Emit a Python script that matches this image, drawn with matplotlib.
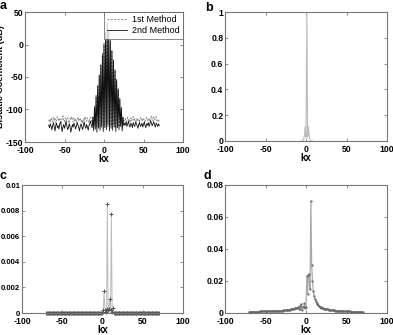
import matplotlib
matplotlib.use("Agg")
import matplotlib.pyplot as plt

plt.rcParams['font.family'] = ['Liberation Sans', 'DejaVu Sans']
plt.rcParams['axes.unicode_minus'] = False

# ---------------- data ----------------
kx = list(range(-70, 71))

# panel a (dB)
a2_left = [-124, -128, -122, -126, -131, -125, -120, -127, -133, -124,
           -121, -128, -125, -130, -122, -119, -126, -134, -127, -123,
           -129, -124, -118, -125, -131, -128, -122, -126, -135, -129,
           -123, -127, -121, -125, -130, -126, -120, -124, -128, -133,
           -125, -122, -127, -131, -124, -119, -126, -129, -123, -127,
           -132, -125, -121, -118, -124]
a2_mid = [-128, -112, -133, -96, -130, -80, -135, -64, -129, -48,
          -132, -32, -127, -16, -134, 0, -128, 18, -131, 33,
          -126, 22, -133, 6, -129, -9, -132, -24, -127, -39,
          -134, -54, -128, -68, -131, -83, -126, -97, -133, -112, -125]
a2_right = [-121, -124, -119, -126, -122, -118, -125, -127, -121, -123,
            -128, -120, -124, -126, -119, -122, -125, -129, -123, -120,
            -126, -124, -121, -127, -123, -119, -125, -128, -122, -124,
            -120, -126, -123, -117, -121, -125, -122, -119, -124, -127,
            -121, -123, -126, -122, -125]
a1_left = [-118, -115, -120, -113, -116, -119, -112, -117, -114, -121,
           -116, -111, -115, -118, -113, -117, -120, -114, -110, -116,
           -119, -113, -117, -115, -112, -118, -121, -114, -116, -111,
           -115, -119, -113, -117, -114, -120, -116, -112, -118, -115,
           -113, -119, -116, -121, -114, -117, -111, -115, -118, -113,
           -116, -120, -114, -112, -117]
a1_mid = [-120, -110, -126, -94, -124, -78, -128, -62, -123, -46,
          -127, -30, -122, -14, -129, 2, -124, 19, -127, 32,
          -121, 21, -128, 5, -125, -10, -127, -25, -122, -40,
          -129, -55, -124, -69, -127, -84, -122, -98, -128, -111, -118]
a1_right = [-117, -114, -119, -115, -112, -118, -116, -120, -113, -117,
            -115, -111, -118, -114, -116, -119, -113, -117, -115, -120,
            -114, -112, -118, -116, -113, -117, -119, -115, -112, -116,
            -118, -114, -117, -113, -110, -115, -118, -112, -116, -114,
            -111, -117, -115, -119, -116]
method1 = a1_left + a1_mid + a1_right
method2 = a2_left + a2_mid + a2_right

# panel b (linear, normalised)
kx_b = [-6, -5, -4, -3, -2, -1, 0, 1, 2, 3, 4, 5, 6, 7, 8]
b_vals = [0.0, 0.0, 0.002, 0.01, 0.04, 0.11, 0.03, 1.0, 0.03, 0.11, 0.04, 0.01, 0.002, 0.0, 0.0]

# panel c
c_left = [0.0] * 55
c_mid = [0.0, 0.0, 0.0, 0.0, 0.0, 0.0, 0.0, 0.0, 0.0, 0.0,
         0.0, 0.0, 0.0, 0.0, 0.0, 0.0001, 0.0002, 0.0017, 0.0002, 0.0001,
         0.0003, 0.0085, 0.0002, 0.0003, 0.0011, 0.0002, 0.0077, 0.0001, 0.0004, 0.0,
         0.0, 0.0, 0.0, 0.0, 0.0, 0.0, 0.0, 0.0, 0.0, 0.0, 0.0]
c_right = [0.0] * 45
c_vals = c_left + c_mid + c_right

# panel d
d_left = [0.0008, 0.0008, 0.0008, 0.0008, 0.0008, 0.0009, 0.0009, 0.0009, 0.0009, 0.0009,
          0.0009, 0.0009, 0.0009, 0.0010, 0.0010, 0.0010, 0.0010, 0.0010, 0.0010, 0.0010,
          0.0010, 0.0011, 0.0011, 0.0011, 0.0011, 0.0011, 0.0011, 0.0012, 0.0012, 0.0012,
          0.0012, 0.0012, 0.0013, 0.0013, 0.0013, 0.0013, 0.0014, 0.0014, 0.0014, 0.0015,
          0.0015, 0.0015, 0.0016, 0.0016, 0.0017, 0.0017, 0.0018, 0.0018, 0.0019, 0.0020,
          0.0021, 0.0022, 0.0023, 0.0024, 0.0026]
d_mid = [0.0027, 0.0029, 0.0031, 0.0033, 0.0030, 0.0036, 0.0028, 0.0045, 0.0025, 0.0055,
         0.0020, 0.0040, 0.0035, 0.0060, 0.0030, 0.0038, 0.0230, 0.0120, 0.0235, 0.0242,
         0.0150, 0.0700, 0.0300, 0.0200, 0.0140, 0.0105, 0.0085, 0.0072, 0.0062, 0.0055,
         0.0049, 0.0044, 0.0040, 0.0037, 0.0034, 0.0032, 0.0030, 0.0028, 0.0027, 0.0025,
         0.0024]
d_right = [0.0023, 0.0022, 0.0021, 0.0020, 0.0019, 0.0018, 0.0018, 0.0017, 0.0016, 0.0016,
           0.0015, 0.0015, 0.0014, 0.0014, 0.0013, 0.0013, 0.0013, 0.0012, 0.0012, 0.0012,
           0.0011, 0.0011, 0.0011, 0.0011, 0.0010, 0.0010, 0.0010, 0.0010, 0.0010, 0.0009,
           0.0009, 0.0009, 0.0009, 0.0009, 0.0009, 0.0009, 0.0008, 0.0008, 0.0008, 0.0008,
           0.0008, 0.0008, 0.0008, 0.0008, 0.0008]
d_vals = d_left + d_mid + d_right

x_ticks = [-100, -50, 0, 50, 100]
x_ticklabels = ['-100', '-50', '0', '50', '100']
a_yticks = [-150, -100, -50, 0, 50]
a_yticklabels = ['-150', '-100', '-50', '0', '50']
b_yticks = [0, 0.2, 0.4, 0.6, 0.8, 1.0]
b_yticklabels = ['0', '0.2', '0.4', '0.6', '0.8', '1']
c_yticks = [0, 0.002, 0.004, 0.006, 0.008, 0.01]
c_yticklabels = ['0', '0.002', '0.004', '0.006', '0.008', '0.01']
d_yticks = [0, 0.02, 0.04, 0.06, 0.08]
d_yticklabels = ['0', '0.02', '0.04', '0.06', '0.08']

# ---------------- figure ----------------
W, H = 393, 335
fig = plt.figure(figsize=(W / 100, H / 100), dpi=100)


def px_axes(l, r, t, b):
    return fig.add_axes([l / W, 1 - b / H, (r - l) / W, (b - t) / H])


ax_a = px_axes(25, 183, 12, 142)
ax_b = px_axes(225, 387, 12, 141)
ax_c = px_axes(22, 183, 185, 313)
ax_d = px_axes(225, 387, 185, 313)


def style(ax, yt, ytl, ylim, yfs=6.2):
    ax.set_xlim(-100, 100)
    ax.set_ylim(*ylim)
    ax.set_xticks(x_ticks)
    ax.set_xticklabels(x_ticklabels, fontsize=6.2, fontweight='bold')
    ax.set_yticks(yt)
    ax.set_yticklabels(ytl, fontsize=yfs, fontweight='bold')
    ax.tick_params(direction='in', length=2.5, width=0.6, color='#777777',
                   top=True, right=True)
    ax.tick_params(axis='x', pad=3.2)
    ax.tick_params(axis='y', pad=1.2)
    for s in ax.spines.values():
        s.set_color('#777777')
        s.set_linewidth(0.8)
    ax.set_xlabel('kx', fontsize=7, fontweight='bold', labelpad=-1)


# panel a
ax_a.plot(kx, method1, linestyle=(0, (2, 1.5)), color='#888888', lw=0.7, label='1st Method')
ax_a.plot(kx, method2, linestyle='-', color='#111111', lw=0.6, label='2nd Method')
style(ax_a, a_yticks, a_yticklabels, (-150, 50))
leg = ax_a.legend(loc='upper right', fontsize=6.5, borderaxespad=0, frameon=True,
                  fancybox=False, handlelength=2.2, handletextpad=0.6,
                  borderpad=0.35, labelspacing=0.25)
leg.get_frame().set_edgecolor('#555555')
leg.get_frame().set_linewidth(0.6)

# panel b
ax_b.plot(kx_b, b_vals, color='#bbbbbb', lw=0.8)
style(ax_b, b_yticks, b_yticklabels, (0, 1))

# panel c
ax_c.plot(kx, c_vals, color='#bbbbbb', lw=0.7, marker='+', markersize=3,
          markeredgecolor='#555555', markeredgewidth=0.7, clip_on=False)
style(ax_c, c_yticks, c_yticklabels, (0, 0.01), yfs=5.6)

# panel d
ax_d.plot(kx, d_vals, color='#aaaaaa', lw=0.9, marker='.', markersize=1.2,
          markeredgecolor='#666666', markerfacecolor='#666666')
style(ax_d, d_yticks, d_yticklabels, (0, 0.08))

# labels
fig.text(1.0 / W, 1 - 77 / H, 'Bistatic Coefficient (dB)', rotation=90,
         ha='center', va='center', fontsize=6.5, fontweight='bold')
fig.text(0 / W, 1 - 0 / H, 'a', ha='left', va='top', fontsize=9, fontweight='bold')
fig.text(205 / W, 1 - 2 / H, 'b', ha='left', va='top', fontsize=9, fontweight='bold')
fig.text(0 / W, 1 - 170 / H, 'c', ha='left', va='top', fontsize=9, fontweight='bold')
fig.text(204 / W, 1 - 170 / H, 'd', ha='left', va='top', fontsize=9, fontweight='bold')

fig.savefig('out.png', dpi=100)
